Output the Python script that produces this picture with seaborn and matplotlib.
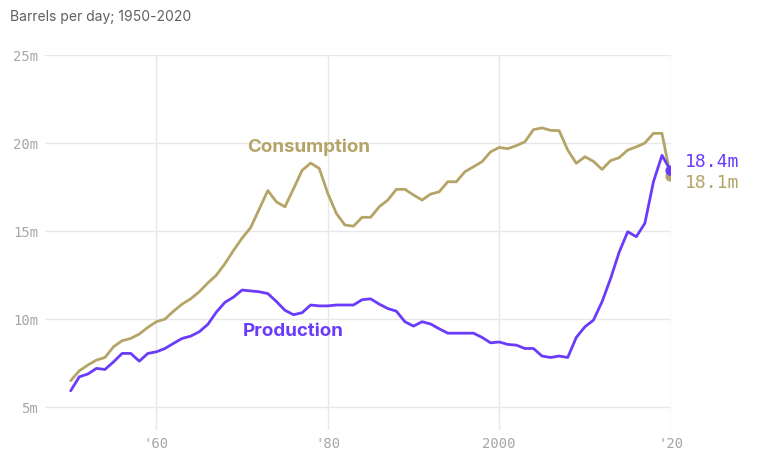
import numpy as np
import pandas as pd
import matplotlib
matplotlib.use("Agg")
import matplotlib.pyplot as plt
import seaborn as sns

years = list(range(1950, 2021))

consumption = [6.5, 7.06, 7.39, 7.67, 7.82, 8.43, 8.77, 8.9, 9.15, 9.53,
               9.85, 10.0, 10.45, 10.85, 11.15, 11.55, 12.05, 12.5, 13.15, 13.9,
               14.6, 15.2, 16.25, 17.3, 16.66, 16.38, 17.4, 18.45, 18.86, 18.56,
               17.14, 16.0, 15.34, 15.28, 15.78, 15.78, 16.38, 16.76, 17.37, 17.37,
               17.05, 16.76, 17.1, 17.23, 17.8, 17.8, 18.37, 18.65, 18.94, 19.5,
               19.75, 19.68, 19.85, 20.07, 20.76, 20.86, 20.72, 20.7, 19.6, 18.85,
               19.22, 18.96, 18.5, 19.0, 19.17, 19.6, 19.78, 20.0, 20.55, 20.55,
               18.1]

production = [5.93, 6.72, 6.88, 7.2, 7.14, 7.57, 8.05, 8.05, 7.61, 8.05,
              8.14, 8.33, 8.62, 8.9, 9.03, 9.28, 9.7, 10.4, 10.95, 11.25,
              11.65, 11.6, 11.55, 11.45, 11.0, 10.5, 10.25, 10.36, 10.8, 10.75,
              10.75, 10.8, 10.8, 10.8, 11.1, 11.15, 10.85, 10.6, 10.45, 9.85,
              9.6, 9.85, 9.72, 9.45, 9.2, 9.2, 9.2, 9.2, 8.96, 8.65,
              8.7, 8.56, 8.52, 8.33, 8.33, 7.9, 7.82, 7.9, 7.82, 8.96,
              9.56, 9.94, 10.98, 12.3, 13.8, 14.96, 14.68, 15.44, 17.8, 19.3,
              18.43]

series_names = ["Consumption", "Production"]
y_ticks = [5, 10, 15, 20, 25]
y_tick_labels = ["5m", "10m", "15m", "20m", "25m"]
x_ticks = [1960, 1980, 2000, 2020]
x_tick_labels = ["'60", "'80", "2000", "'20"]
title = "Barrels per day; 1950-2020"

tan = "#b5a468"
purple = "#6a3bfb"
palette = {"Consumption": tan, "Production": purple}

df = pd.DataFrame({
    "year": years * 2,
    "value": consumption + production,
    "series": [series_names[0]] * len(years) + [series_names[1]] * len(years),
})

sns.set_style("white")
plt.rcParams["font.family"] = ["Inter", "DejaVu Sans"]

fig = plt.figure(figsize=(7.68, 4.5), dpi=100)
ax = fig.add_axes([45 / 768, 1 - 430 / 450, 626 / 768, 375 / 450])

sns.lineplot(data=df, x="year", y="value", hue="series", palette=palette,
             linewidth=2.0, legend=False, ax=ax, zorder=3)

# end points
end = df[df["year"] == years[-1]]
sns.scatterplot(data=end, x="year", y="value", hue="series",
                palette=palette, s=55, edgecolor="none", legend=False,
                ax=ax, zorder=4)

ax.set_xlim(1947, 2020.05)
ax.set_ylim(3.7, 25)
ax.set_xticks(x_ticks)
ax.set_xticklabels(x_tick_labels)
ax.set_yticks(y_ticks)
ax.set_yticklabels(y_tick_labels)
ax.set_xlabel("")
ax.set_ylabel("")
for s in ax.spines.values():
    s.set_visible(False)
ax.grid(True, color="#e8e8e8", linewidth=1.0, zorder=0)
ax.tick_params(axis="both", length=0, colors="#a6a6a6", labelsize=10, pad=5)
for lab in ax.get_xticklabels() + ax.get_yticklabels():
    lab.set_family("DejaVu Sans Mono")

# series labels
ax.text(1970.6, 19.77, series_names[0], color=tan, fontsize=13.5,
        fontweight="bold", va="center", ha="left")
ax.text(1970.1, 9.32, series_names[1], color=purple, fontsize=13.5,
        fontweight="bold", va="center", ha="left")

# end labels
ax.annotate(f"{production[-1]:.1f}m", xy=(years[-1], production[-1]),
            xytext=(10, 6), textcoords="offset points", color=purple,
            fontsize=13, family="DejaVu Sans Mono", va="center", ha="left",
            annotation_clip=False)
ax.annotate(f"{consumption[-1]:.1f}m", xy=(years[-1], consumption[-1]),
            xytext=(10, -5), textcoords="offset points", color=tan,
            fontsize=13, family="DejaVu Sans Mono", va="center", ha="left",
            annotation_clip=False)

fig.text(10 / 768, 1 - 17 / 450, title, color="#5f5f5f", fontsize=10,
         va="center", ha="left")

fig.savefig("out.png", dpi=100, facecolor="white")
